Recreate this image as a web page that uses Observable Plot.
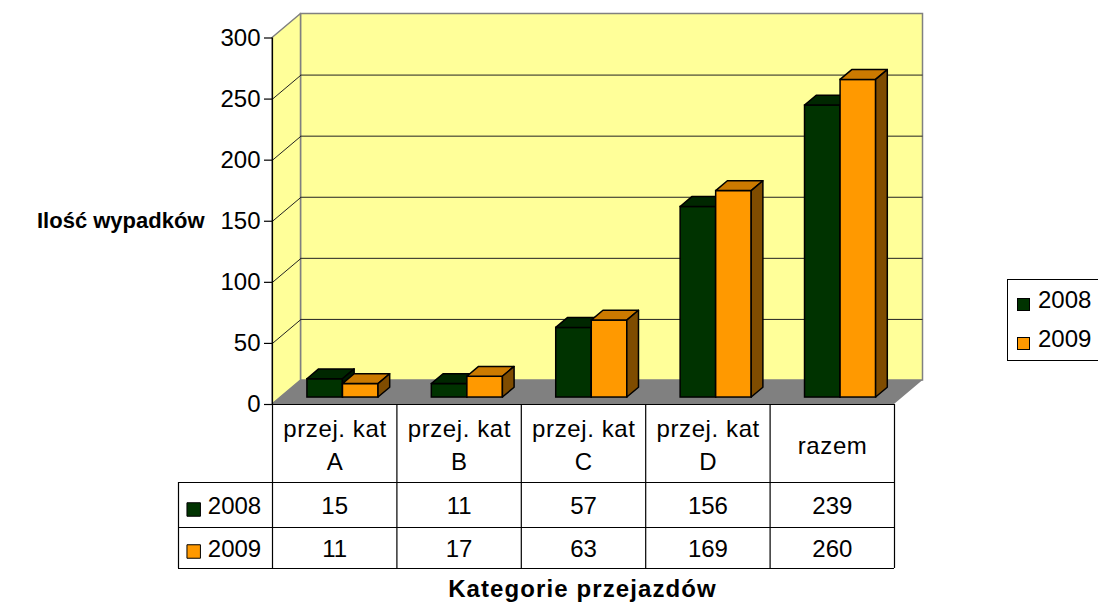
<!DOCTYPE html>
<html>
<head>
<meta charset="utf-8">
<script src="https://cdn.jsdelivr.net/npm/d3@7"></script>
<script src="https://cdn.jsdelivr.net/npm/@observablehq/plot@0.6"></script>
<style>
  html, body { margin: 0; padding: 0; background: #fff; overflow: hidden; }
  #wrap { position: relative; width: 1098px; height: 608px; font-family: "Liberation Sans", Arial, sans-serif; }
  #legend { position: absolute; left: 1007px; top: 279px; width: 110px; height: 82px; border: 1px solid #000; box-sizing: border-box; background: #fff; }
  .key { position: absolute; left: 9px; width: 11px; height: 11px; border: 1px solid #000; }
  .lab { position: absolute; left: 30px; font-size: 24px; letter-spacing: 0px; line-height: 24px; color: #000; }
</style>
</head>
<body>
<div id="wrap"></div>
<script>
// ---- data ----
const categories = ["przej. kat A", "przej. kat B", "przej. kat C", "przej. kat D", "razem"];
const headerLabels = ["przej. kat\nA", "przej. kat\nB", "przej. kat\nC", "przej. kat\nD", "razem"];
const seriesNames = ["2008", "2009"];
const values2008 = [15, 11, 57, 156, 239];
const values2009 = [11, 17, 63, 169, 260];
const yTicks = [0, 50, 100, 150, 200, 250, 300];
const gridValues = [50, 100, 150, 200, 250];
const frontColors = ["#003300", "#FF9900"];
const topColors = ["#002700", "#CC7A00"];
const sideColors = ["#001a00", "#7F4C00"];
const yTitle = "Ilość wypadków";
const xTitle = "Kategorie przejazdów";

// ---- layout ----
const W = 1098, H = 608, ML = 272, MR = 204, MT = 37.5, MB = 204;
const N = categories.length, YMAX = 300;
const PXX = (W - ML - MR) / N;       // px per category
const PXY = (H - MT - MB) / YMAX;    // px per unit value
const DX = 28.5 / PXX, DY = 24 / PXY; // depth of the 3D box
const fF = 0.29, fB = 0.70;           // bar front/back depth fractions
const bw = 1 / 3.5;                   // bar width (gap 150%)
const font = "Liberation Sans, Arial, sans-serif";

const valuesBySeries = [values2008, values2009];
const bars = [];
categories.forEach((c, i) => seriesNames.forEach((s, j) => {
  const L = i + (1 - 2 * bw) / 2 + j * bw;
  bars.push({c, s, j, L, R: L + bw, v: valuesBySeries[j][i]});
}));
const topRows = bars.flatMap(b => [
  {k: b.c + b.s, j: b.j, x1: b.L + fF * DX, x2: b.R + fF * DX, y: b.v + fF * DY},
  {k: b.c + b.s, j: b.j, x1: b.L + fB * DX, x2: b.R + fB * DX, y: b.v + fB * DY}
]);
const sideRows = bars.flatMap(b => [
  {k: b.c + b.s, j: b.j, x: b.R + fF * DX, y1: fF * DY, y2: b.v + fF * DY},
  {k: b.c + b.s, j: b.j, x: b.R + fB * DX, y1: fB * DY, y2: b.v + fB * DY}
]);

const barMarks = [];
[0, 1].forEach(j => {
  barMarks.push(
    Plot.rect(bars.filter(b => b.j === j), {x1: b => b.L + fF * DX, x2: b => b.R + fF * DX, y1: fF * DY, y2: b => b.v + fF * DY, fill: frontColors[j], stroke: "#000", strokeWidth: 1.5}),
    Plot.area(topRows.filter(r => r.j === j), {x1: "x1", x2: "x2", y1: "y", y2: "y", z: "k", fill: topColors[j], stroke: "#000", strokeWidth: 1.5}),
    Plot.area(sideRows.filter(r => r.j === j), {x1: "x", x2: "x", y1: "y1", y2: "y2", z: "k", fill: sideColors[j], stroke: "#000", strokeWidth: 1.5})
  );
});

// walls / floor
const leftWall = [{x1: 0, x2: 0, y1: 0, y2: YMAX}, {x1: DX, x2: DX, y1: DY, y2: YMAX + DY}];
const floor = [{x1: 0, x2: N, y1: 0, y2: 0}, {x1: DX, x2: N + DX, y1: DY, y2: DY}];

// table geometry (px below the zero line)
const headerH = 78, row1 = 123, row2 = 164, labelCol = 94;
const rowTextDy = [101.6, 145];
const rowKeyDy = [105, 147];
const py = p => -p / PXY;

const tableRowMarks = [];
seriesNames.forEach((s, j) => {
  tableRowMarks.push(
    Plot.text(valuesBySeries[j], {x: (d, i) => i + 0.5, y: 0, dy: rowTextDy[j], text: d => String(d), fontSize: 24}),
    Plot.dot([s], {x: 0, y: 0, dx: -78.8, dy: rowKeyDy[j], symbol: "square", r: 7.6, fill: frontColors[j], stroke: "#000", strokeWidth: 1}),
    Plot.text([s], {x: 0, y: 0, dx: -64.7, dy: rowTextDy[j], textAnchor: "start", text: d => d, fontSize: 24})
  );
});

const chart = Plot.plot({
  width: W, height: H,
  marginLeft: ML, marginRight: MR, marginTop: MT, marginBottom: MB,
  x: {type: "linear", domain: [0, N], axis: null},
  y: {type: "linear", domain: [0, YMAX], axis: null},
  style: {fontFamily: font, fontSize: "24px", background: "white", overflow: "visible", color: "#000"},
  marks: [
    Plot.rect([0], {x1: DX, x2: N + DX, y1: DY, y2: YMAX + DY, fill: "#FFFF99", stroke: "#808080", strokeWidth: 1.5}),
    Plot.area(leftWall, {x1: "x1", x2: "x2", y1: "y1", y2: "y2", fill: "#FFFF99", stroke: "#808080", strokeWidth: 1.5}),
    Plot.area(floor, {x1: "x1", x2: "x2", y1: "y1", y2: "y2", fill: "#808080"}),
    Plot.ruleY(gridValues, {y: d => d + DY, x1: DX, x2: N + DX, stroke: "#222", strokeWidth: 1}),
    Plot.link(gridValues, {x1: 0, y1: d => d, x2: DX, y2: d => d + DY, stroke: "#222", strokeWidth: 1}),
    // axis line + ticks
    Plot.ruleX([0], {y1: py(row2), y2: YMAX, stroke: "#000", strokeWidth: 1.2}),
    Plot.ruleY(yTicks, {y: d => d, x1: -8 / PXX, x2: 0, stroke: "#000", strokeWidth: 1.2}),
    Plot.text(yTicks, {x: 0, y: d => d, dx: -12, textAnchor: "end", text: d => String(d), fontSize: 24}),
    ...barMarks,
    // table
    Plot.ruleY([0], {x1: 0, x2: N, stroke: "#000", strokeWidth: 1.2}),
    Plot.ruleY([headerH, row1, row2].map(py), {x1: -labelCol / PXX, x2: N, stroke: "#000", strokeWidth: 1.2}),
    Plot.ruleX(d3.range(1, N + 1), {y1: py(row2), y2: 0, stroke: "#000", strokeWidth: 1.2}),
    Plot.ruleX([-labelCol / PXX], {y1: py(row2), y2: py(headerH), stroke: "#000", strokeWidth: 1.2}),
    Plot.text(headerLabels, {x: (d, i) => i + 0.5, y: 0, dy: 38.4, dx: 0.3, text: d => d, lineHeight: 1.39, fontSize: 24}),
    ...tableRowMarks,
    // titles
    Plot.text([yTitle], {frameAnchor: "left", textAnchor: "end", dx: -68, dy: 0, text: d => d, fontWeight: "bold", fontSize: 22}),
    Plot.text([xTitle], {frameAnchor: "bottom", dx: -1, dy: 192.3, text: d => d, fontWeight: "bold", fontSize: 24})
  ]
});

// per-text letter spacing
d3.select(chart).selectAll("text").each(function() {
  const t = this.textContent;
  if (t === yTitle) this.style.letterSpacing = "0px";
  else if (t === xTitle) this.style.letterSpacing = "1.1px";
  else if (/[a-z]/.test(t)) this.style.letterSpacing = "0.6px";
});

const wrap = document.getElementById("wrap");
wrap.appendChild(chart);

// legend
const legend = document.createElement("div");
legend.id = "legend";
const keyTops = [18, 57];
const labTops = [8, 47];
seriesNames.forEach((s, j) => {
  const k = document.createElement("div");
  k.className = "key";
  k.style.top = keyTops[j] + "px";
  k.style.background = frontColors[j];
  const l = document.createElement("div");
  l.className = "lab";
  l.style.top = labTops[j] + "px";
  l.textContent = s;
  legend.appendChild(k);
  legend.appendChild(l);
});
wrap.appendChild(legend);
</script>
</body>
</html>
